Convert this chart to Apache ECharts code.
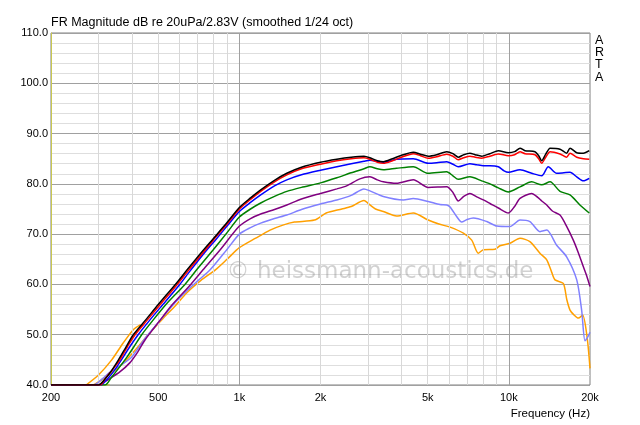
<!DOCTYPE html>
<html><head><meta charset="utf-8">
<script src="https://cdn.jsdelivr.net/npm/echarts@6/dist/echarts.min.js"></script>
<style>html,body{margin:0;padding:0;background:#fff}#main{width:640px;height:425px}</style>
</head><body><div id="main"></div>
<script>
// ---- data (frequency Hz, level dB) ----
const freqTicks = [200, 500, 1000, 2000, 5000, 10000, 20000];
const freqTickLabels = ['200', '500', '1k', '2k', '5k', '10k', '20k'];
const minorFreqLines = [300, 400, 500, 600, 700, 800, 900, 2000, 3000, 4000, 5000, 6000, 7000, 8000, 9000];
const majorFreqLines = [1000, 10000];

const black = [[200,40],[300,40],[315,41],[330,42.3],[356,45],[380,47.6],[404,50],[450,53.0],[500,56.0],[585,60.3],[640,62.9],[724,66.4],[800,69.1],[900,72.3],[1000,75.3],[1100,77.2],[1200,78.8],[1350,80.7],[1500,82.1],[1700,83.3],[2000,84.3],[2300,84.9],[2600,85.3],[2900,85.5],[3050,85.2],[3250,84.6],[3420,84.4],[3700,85.0],[4000,85.7],[4420,86.3],[4700,85.9],[5020,85.5],[5400,85.8],[5880,86.4],[6200,86.0],[6490,85.3],[6800,85.8],[7170,86.1],[7500,85.8],[7930,85.5],[8500,86.0],[9140,86.6],[9960,86.2],[10500,86.4],[11000,87.1],[11480,86.6],[12500,86.4],[12900,85.6],[13240,84.6],[13700,85.9],[14220,87.1],[15480,86.9],[16380,86.1],[16860,87.1],[17860,86.2],[18900,86.1],[19870,86.6]];
const red = [[200,40],[304,40],[320,41.5],[340,43.2],[360,45],[385,47.7],[410,50],[455,52.9],[505,55.8],[590,60.1],[645,62.7],[730,66.2],[800,68.8],[900,72.0],[1000,75.0],[1100,76.9],[1200,78.5],[1350,80.4],[1500,81.8],[1700,83.0],[2000,83.9],[2300,84.6],[2600,85.0],[2900,85.2],[3050,84.9],[3250,84.3],[3420,84.1],[3700,84.6],[4000,85.3],[4420,86.0],[4700,85.6],[5020,85.1],[5400,85.4],[5880,85.9],[6200,85.5],[6490,84.8],[6800,85.2],[7170,85.5],[7500,85.3],[7930,85.1],[8500,85.5],[9140,85.95],[9960,85.6],[10500,85.8],[11000,86.4],[11480,86.0],[12500,85.8],[12900,85.0],[13240,84.1],[13700,85.3],[14220,86.4],[15480,85.95],[16380,85.3],[16860,86.1],[17860,85.3],[18900,85.0],[19870,84.9]];
const blue = [[200,40],[305,40],[325,41.3],[345,43],[365,45],[392,47.6],[421,50],[470,53.2],[520,56.0],[601,60],[650,62.4],[745,66.4],[820,69.0],[900,71.6],[1000,74.5],[1100,76.3],[1200,77.8],[1350,79.6],[1500,80.8],[1700,81.8],[2000,82.7],[2300,83.4],[2600,84.0],[2900,84.5],[3050,84.7],[3250,84.5],[3420,84.3],[3830,84.9],[4420,85.0],[5020,84.1],[5400,84.2],[5880,84.4],[6200,83.9],[6490,83.4],[7170,84.0],[7600,83.8],[8040,83.6],[8510,83.6],[9140,83.4],[9600,82.6],[9960,82.3],[11000,82.8],[12150,82.1],[13240,81.6],[14000,83.4],[15040,82.1],[16000,82.2],[16860,82.3],[17860,81.4],[18900,80.6],[19870,81.1]];
const green = [[200,40],[317,40],[335,41.5],[355,43.2],[382,45.5],[405,47.5],[434,50],[480,53],[540,56.3],[628,60],[694,62.9],[800,66.9],[900,70.3],[1000,73.4],[1100,75],[1200,76.2],[1350,77.5],[1500,78.5],[1700,79.3],[2000,80.2],[2300,81.2],[2600,82.2],[2900,83.0],[3050,83.4],[3250,83.0],[3420,82.8],[3830,83.1],[4420,83.4],[5020,82.1],[5880,82.4],[6200,81.6],[6490,80.9],[7170,81.4],[7930,80.6],[8510,80.0],[9140,79.2],[9960,78.4],[11000,79.4],[12150,80.4],[13240,79.8],[14220,80.4],[15480,78.5],[16860,77.8],[18350,75.8],[19870,74.2]];
const purple = [[200,40],[296,40],[315,40.6],[331,41.3],[360,42.6],[392,44.4],[420,46.6],[447,49.0],[480,51.2],[520,53.6],[560,55.8],[660,60],[733,62.9],[849,66.9],[1000,71.6],[1100,73.1],[1200,74],[1350,74.9],[1500,75.8],[1700,77.0],[2000,78.1],[2300,79.0],[2500,79.6],[2800,81.0],[3050,81.4],[3250,80.8],[3420,80.4],[3830,80.1],[4420,80.8],[5020,79.3],[5880,79.4],[6200,78.3],[6490,76.6],[6800,77.5],[7170,78.1],[7600,77.4],[8040,76.8],[8510,76.1],[9140,75.2],[9960,74.2],[10500,75.5],[11000,77.1],[12150,78.1],[12800,77.3],[13240,76.6],[13820,75.8],[14500,74.6],[15480,73.8],[16400,71.5],[17340,68.8],[18100,66.3],[18900,63.5],[19500,61.5],[20000,59.6]];
const lightBlue = [[200,40],[287,40],[310,41.2],[330,42.5],[360,43.8],[398,45.5],[447,49.3],[520,53.5],[580,56.5],[640,58.8],[700,60.7],[779,62.9],[898,66.9],[1000,70.0],[1100,71.3],[1200,72.2],[1350,73.1],[1500,73.8],[1700,74.9],[2000,76.0],[2300,76.8],[2600,77.7],[2900,79.0],[3050,78.6],[3420,77.5],[4060,76.8],[4420,77.1],[5020,76.5],[5550,75.9],[5880,75.8],[6050,75.4],[6400,73.5],[6680,72.4],[7000,72.9],[7380,73.2],[8280,72.5],[9020,71.6],[10100,71.5],[11000,72.8],[11970,72.5],[13040,70.5],[13820,70.8],[15040,67.8],[16380,65.5],[17860,60.9],[18620,54.9],[19160,48.8],[19600,49.5],[20000,50.5]];
const orange = [[200,40],[285,40],[300,40.6],[320,41.6],[345,42.9],[375,44.6],[410,46.9],[447,49.3],[480,51.2],[520,53.2],[580,55.8],[637,58.3],[720,60.8],[815,62.9],[900,65],[1000,67.3],[1150,69.2],[1300,70.8],[1450,71.8],[1600,72.4],[1900,72.8],[2100,74.2],[2400,75],[2600,75.5],[2900,76.7],[3050,75.8],[3200,75.0],[3420,74.5],[3830,73.6],[4420,74.2],[5020,72.8],[5500,72.0],[6050,71.4],[6780,70.2],[7280,68.8],[7700,66.2],[8040,66.9],[8880,67.0],[9270,67.7],[10100,68.2],[11000,69.2],[11970,68.5],[13040,66.2],[13820,64.9],[14400,62.5],[14830,60.9],[15920,60.2],[16400,57],[16860,54.9],[17400,54.0],[18100,53.3],[18780,53.9],[19520,49.4],[20000,43.3]];
const orangeLead = [[270,40],[300,42],[336,45],[370,48.3],[404,51.0],[430,52.0]];
const oliveFloor = [[200,40],[330,40]];

const chart = echarts.init(document.getElementById('main'));
const FONT = '"Liberation Sans", Arial, sans-serif';
function curve(name, data, color, z) {
  return {name, type:'line', data, showSymbol:false, symbol:'none', z, silent:true,
          smooth:0.25,
          lineStyle:{color, width:1.5}, clip:true};
}
const option = {
  animation:false,
  backgroundColor:'#ffffff',
  title:[
    {text:'FR Magnitude dB re 20uPa/2.83V (smoothed 1/24 oct)', left:51, top:16, padding:0,
     textStyle:{fontFamily:FONT, fontSize:12.5, fontWeight:'normal', color:'#000'}},
    {text:'A\nR\nT\nA', left:595, top:34, padding:0,
     textStyle:{fontFamily:FONT, fontSize:12.5, fontWeight:'normal', color:'#000', lineHeight:12.3}},
    {text:'Frequency (Hz)', right:50, top:408, padding:0,
     textStyle:{fontFamily:FONT, fontSize:11.5, fontWeight:'normal', color:'#000'}}
  ],
  grid:{left:51, right:50, top:33, bottom:40, show:true, borderColor:'#808080', borderWidth:1},
  xAxis:{type:'log', logBase:10, min:200, max:20000,
         axisLine:{show:false}, axisTick:{show:false}, axisLabel:{show:false}, splitLine:{show:false}},
  yAxis:{type:'value', min:40, max:110, interval:10,
         axisLine:{show:true, lineStyle:{color:'#c8c850', width:1}}, axisTick:{show:false},
         axisLabel:{formatter:v=>v.toFixed(1), fontFamily:FONT, fontSize:11, color:'#000', margin:3},
         splitLine:{show:true, lineStyle:{color:'#a0a0a0', width:1}},
         minorTick:{show:false, splitNumber:5},
         minorSplitLine:{show:true, lineStyle:{color:'#dedede', width:1}}},
  series:[
    {type:'line', data:[], z:1, silent:true,
     markLine:{silent:true, symbol:'none', animation:false, label:{show:false},
       lineStyle:{color:'#d8d8d8', type:'solid', width:1},
       data:minorFreqLines.map(f=>({xAxis:f}))}},
    {type:'line', data:[], z:1, silent:true,
     markLine:{silent:true, symbol:'none', animation:false, label:{show:false},
       lineStyle:{color:'#a0a0a0', type:'solid', width:1},
       data:majorFreqLines.map(f=>({xAxis:f}))}},
    curve('olive', oliveFloor, '#b8b840', 3),
    curve('orangeLead', orangeLead, '#ffa000', 3),
    curve('orange', orange, '#ffa000', 4),
    curve('lightBlue', lightBlue, '#8080ff', 5),
    curve('purple', purple, '#800080', 6),
    curve('green', green, '#008000', 7),
    curve('blue', blue, '#0000ff', 8),
    curve('red', red, '#ff0000', 9),
    curve('black', black, '#000000', 10)
  ],
  graphic:[]
};
chart.setOption(option);
const graphics = freqTicks.map((f,i)=>({
  type:'text', x:chart.convertToPixel({xAxisIndex:0}, f), y:398, z:20,
  style:{text:freqTickLabels[i], align:'center', verticalAlign:'middle',
         font:'11px "Liberation Sans", Arial, sans-serif', fill:'#000'}
}));
graphics.push({type:'text', x:380, y:272, z:2,
  style:{text:'\u00a9 heissmann-acoustics.de', align:'center', verticalAlign:'middle',
         font:'23px "DejaVu Sans", sans-serif', fill:'rgba(120,120,120,0.34)'}});
chart.setOption({graphic:graphics});
</script></body></html>
